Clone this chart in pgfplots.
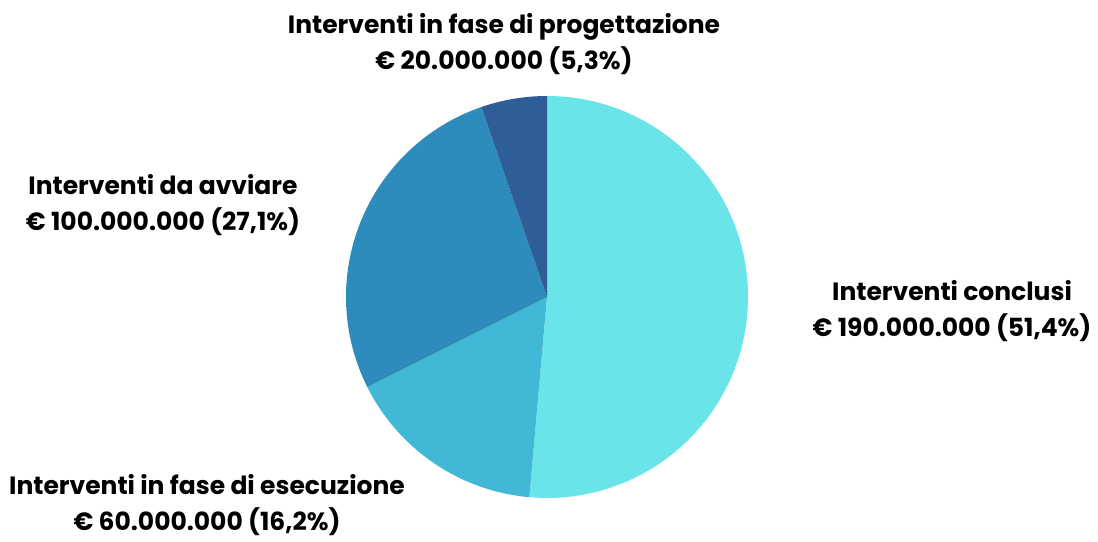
\documentclass[border=0pt]{standalone}
\usepackage{fontspec}
\setmainfont{Poppins}
\usepackage{pgfplots}
\pgfplotsset{compat=1.18}
\definecolor{cConcl}{HTML}{6AE4E8}
\definecolor{cEsec}{HTML}{42B8D7}
\definecolor{cAvv}{HTML}{2D8CBB}
\definecolor{cProg}{HTML}{2E5D98}
% shares in percent (clockwise from the top)
\def\pConcl{51.4}
\def\pEsec{16.2}
\def\pAvv{27.1}
\def\pProg{5.3}
\begin{document}
\begin{tikzpicture}
\pgfmathsetmacro{\aA}{90}
\pgfmathsetmacro{\aB}{\aA-3.6*\pConcl}
\pgfmathsetmacro{\aC}{\aB-3.6*\pEsec}
\pgfmathsetmacro{\aD}{\aC-3.6*\pAvv}
\pgfmathsetmacro{\aE}{\aD-3.6*\pProg}
\begin{axis}[
  scale only axis, width=1098pt, height=542pt,
  xmin=-547, xmax=551, ymin=-245, ymax=297,
  hide axis, clip=false,
]
\path (rel axis cs:0,0) rectangle (rel axis cs:1,1);
\addplot[fill=cConcl, draw=none, data cs=polar] coordinates {(0,0) (\aA,201)} arc[start angle=\aA, end angle=\aB, radius=201] -- cycle;
\addplot[fill=cEsec, draw=none, data cs=polar] coordinates {(0,0) (\aB,201)} arc[start angle=\aB, end angle=\aC, radius=201] -- cycle;
\addplot[fill=cAvv, draw=none, data cs=polar] coordinates {(0,0) (\aC,201)} arc[start angle=\aC, end angle=\aD, radius=201] -- cycle;
\addplot[fill=cProg, draw=none, data cs=polar] coordinates {(0,0) (\aD,201)} arc[start angle=\aD, end angle=\aE, radius=201] -- cycle;
\tikzset{lbl/.style={align=center, inner sep=0pt, font=\fontsize{25}{36}\selectfont\bfseries}}
\node[lbl] at (axis cs:-43,253) {Interventi in fase di progettazione\\€ 20.000.000 (5,3\%)};
\node[lbl] at (axis cs:-384,92) {Interventi da avviare\\€ 100.000.000 (27,1\%)};
\node[lbl] at (axis cs:405,-14) {Interventi conclusi\\€ 190.000.000 (51,4\%)};
\node[lbl] at (axis cs:-340,-208) {Interventi in fase di esecuzione\\€ 60.000.000 (16,2\%)};
\end{axis}
\end{tikzpicture}
\end{document}
